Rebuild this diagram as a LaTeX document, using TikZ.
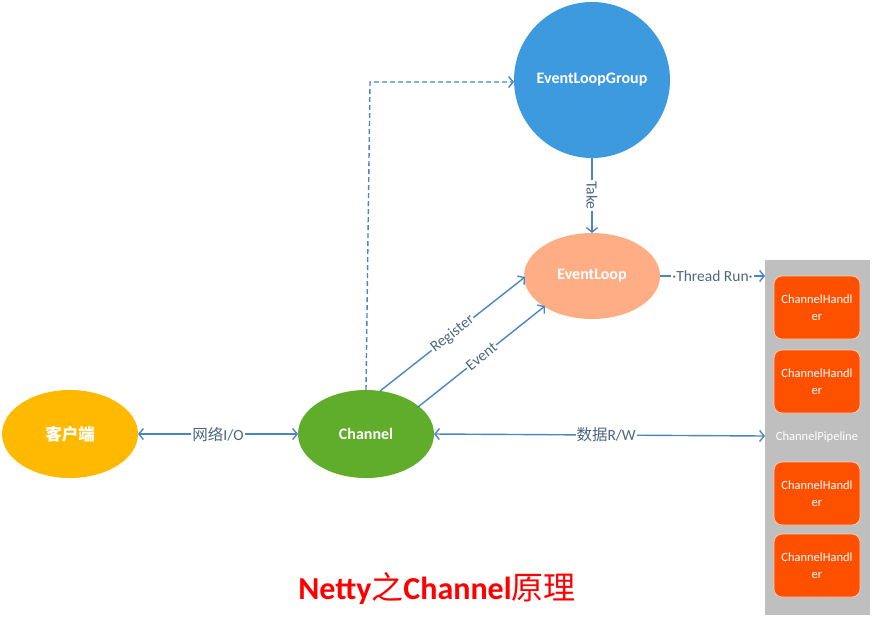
\documentclass[tikz,border=0pt]{standalone}
\usepackage{fontspec}
\setmainfont{Carlito}
\newfontfamily\cjk{Noto Sans CJK SC}
\usetikzlibrary{arrows.meta}
\definecolor{arrowblue}{HTML}{4A86C4}
\definecolor{lblcol}{HTML}{4F6780}
\definecolor{elgblue}{HTML}{3E9ADF}
\definecolor{elpeach}{HTML}{FFAD85}
\definecolor{chgreen}{HTML}{5FAD2A}
\definecolor{cliyellow}{HTML}{FFBA00}
\definecolor{pipegray}{HTML}{BFBFBF}
\definecolor{hdlorange}{HTML}{FF5000}
\definecolor{hdlborder}{HTML}{FFC8A8}
\begin{document}
\begin{tikzpicture}[x=1pt,y=-1pt,
  conn/.style={draw=arrowblue,line width=1.4pt,-{Straight Barb[length=4.5pt,width=11pt]}},
  lbl/.style={fill=white,inner sep=1pt,text=lblcol,font=\fontsize{15.5}{17}\selectfont},
  nodetxt/.style={font=\fontsize{16}{18}\selectfont\bfseries,text=white},
  hdl/.style={draw=hdlborder,fill=hdlorange,rounded corners=8pt,minimum width=86pt,minimum height=63pt,align=center,text=white,font=\fontsize{12.5}{17}\selectfont,line width=0.8pt}
]
\useasboundingbox (0,0) rectangle (872,625);
% shapes
\fill[elgblue] (592,80) circle (78);
\node[nodetxt] (elg) at (592,80) {EventLoopGroup};
\fill[elpeach] (592,276) ellipse (68 and 43);
\node[nodetxt] (el) at (592,276) {EventLoop};
\fill[chgreen] (366,434) ellipse (68 and 44);
\node[nodetxt] (ch) at (366,434) {Channel};
\fill[cliyellow] (70,434) ellipse (68 and 44);
\node[font=\fontsize{16.5}{18}\selectfont\cjk\bfseries,text=white] (cli) at (70,434) {客户端};
% pipeline
\node[fill=pipegray,minimum width=105pt,minimum height=355pt,inner sep=0pt] (pipe) at (817.5,437.5) {};
\node[text=white,font=\fontsize{12.5}{14}\selectfont] (pipelbl) at (817,437) {ChannelPipeline};
\node[hdl] (h1) at (817,307.5) {ChannelHandl\\er};
\node[hdl] (h2) at (817,381.5) {ChannelHandl\\er};
\node[hdl] (h3) at (817,493.5) {ChannelHandl\\er};
\node[hdl] (h4) at (817,565.5) {ChannelHandl\\er};
% anchor coordinates
\coordinate (chtop) at (366,390);
\coordinate (elgleft) at (514,82);
\coordinate (elgbot) at (592,158);
\coordinate (eltop) at (592,233);
\coordinate (elright) at (660,276);
\coordinate (pipeleftA) at (765,276);
\coordinate (pipeleftB) at (765,436);
\coordinate (chright) at (434,434);
\coordinate (chleft) at (298,434);
\coordinate (cliright) at (138,434);
\coordinate (regS) at (380,391);
\coordinate (regE) at (525,277);
\coordinate (evS) at (418,407);
\coordinate (evE) at (545,306);
% connectors
\draw[conn,dash pattern=on 5pt off 3pt] (chtop) -- (370,82) -- (elgleft);
\draw[conn] (elgbot) -- node[lbl,rotate=-90] {Take} (eltop);
\draw[conn] (elright) -- node[lbl] {·Thread Run·} (pipeleftA);
\draw[conn] (regS) -- node[lbl,sloped,pos=0.5] {Register} (regE);
\draw[conn] (evS) -- node[lbl,sloped,pos=0.5] {Event} (evE);
\draw[conn,{Straight Barb[length=4.5pt,width=11pt]}-{Straight Barb[length=4.5pt,width=11pt]}] (cliright) -- node[lbl] {{\cjk 网络}I/O} (chleft);
\draw[conn,{Straight Barb[length=4.5pt,width=11pt]}-{Straight Barb[length=4.5pt,width=11pt]}] (chright) -- node[lbl,pos=0.52] {{\cjk 数据}R/W} (pipeleftB);
% title
\node[text=red,font=\fontsize{32}{36}\selectfont\bfseries] (title) at (437,588) {Netty{\cjk\mdseries 之}Channel{\cjk\mdseries 原理}};
\end{tikzpicture}
\end{document}
